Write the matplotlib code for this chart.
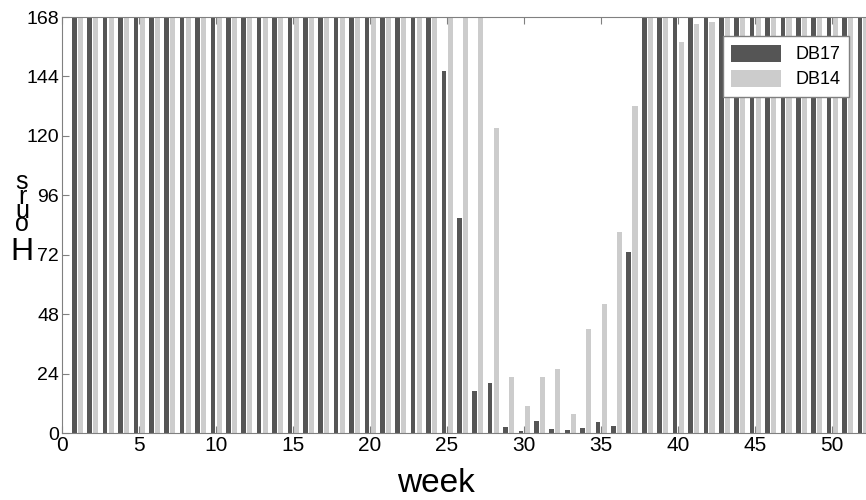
import numpy as np
import matplotlib.pyplot as plt

plt.rcParams['font.family'] = ['Liberation Sans', 'DejaVu Sans']

weeks = np.arange(1, 53)

# hours per week, 168 = whole week
db17 = [168] * 24 + [146, 87, 17, 20, 2.5, 1, 5, 1.5, 1.2, 2, 4.5, 3, 73] + [168] * 15
db14 = [168] * 27 + [123, 22.5, 11, 22.5, 26, 7.5, 42, 52, 81, 132, 168, 168, 158, 165, 166] + [168] * 10

dark = '#555555'
light = '#cccccc'

fig = plt.figure(figsize=(8.66, 5), dpi=100)
ax = fig.add_axes([62 / 866, 1 - 433 / 500, 1 - 62 / 866, (433 - 17) / 500])

ax.bar(weeks - 0.2, db17, width=0.3, color=dark, label='DB17', linewidth=0)
ax.bar(weeks + 0.2, db14, width=0.33, color=light, label='DB14', linewidth=0)

ax.set_xlim(0, 52.2)
ax.set_ylim(0, 168)
ax.set_xticks(np.arange(0, 51, 5))
ax.set_yticks(np.arange(0, 169, 24))
ax.tick_params(direction='in', top=True, right=False, length=5, color='#808080')
ax.tick_params(axis='x', labelsize=15, pad=2)
ax.tick_params(axis='y', labelsize=14, pad=2)
for s in ['left', 'bottom', 'top']:
    ax.spines[s].set_color('#808080')
ax.spines['right'].set_visible(False)

ax.set_xlabel('week', fontsize=24, labelpad=6)
ax.xaxis.set_label_coords((436 - 62) / 804, -0.085)

# y label drawn as upright stacked letters like the original
for ch, ypix in zip('Hours', [260, 231, 218, 204, 189]):
    fig.text(22 / 866, 1 - ypix / 500, ch, fontsize=23 if ch == 'H' else 18,
             ha='center', va='baseline')

leg = ax.legend(loc='upper right', bbox_to_anchor=(0.99, 0.975), fontsize=13,
                frameon=True, fancybox=False, framealpha=1, edgecolor='#808080',
                handlelength=2.8, handleheight=1.1, borderpad=0.45, labelspacing=0.35)
leg.get_frame().set_linewidth(1)

fig.savefig('out.png', dpi=100)
